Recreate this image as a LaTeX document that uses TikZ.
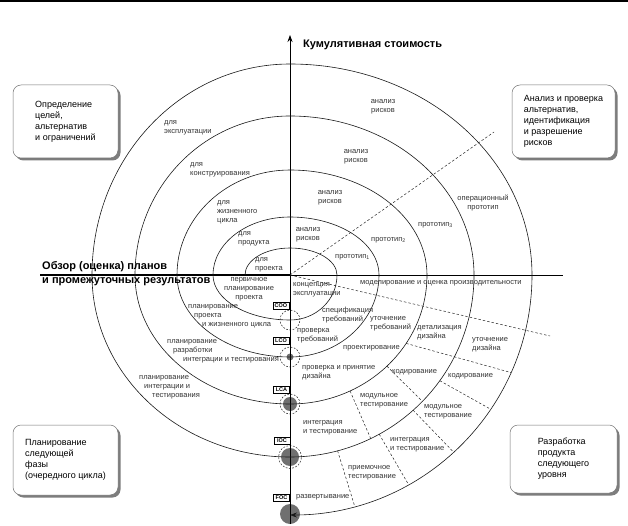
\documentclass[tikz,border=0pt]{standalone}
\usepackage{fontspec}
\setmainfont{Liberation Sans}
\usetikzlibrary{arrows.meta,shadows}
\begin{document}
\begin{tikzpicture}[x=1pt,y=-1pt,
  spiral/.style={line width=0.6pt, draw=black!90},
  axisline/.style={line width=0.7pt, draw=black},
  dsh/.style={line width=0.5pt, draw=black!85, dash pattern=on 2.5pt off 2pt},
  lbl/.style={font=\fontsize{7.5}{9}\selectfont, inner sep=0pt, text=black!80, align=left, anchor=west},
  clbl/.style={font=\fontsize{7.5}{9}\selectfont, inner sep=0pt, text=black!80, align=center},
  bigl/.style={font=\bfseries\fontsize{11}{13}\selectfont, inner sep=0pt, anchor=west},
  box/.style={draw=black!55, line width=0.5pt, rounded corners=8pt, fill=white, align=left,
     font=\fontsize{9}{11}\selectfont, inner sep=0pt,
     drop shadow={shadow xshift=2.5pt, shadow yshift=-2.5pt, fill=black!60, opacity=0.85}},
  tag/.style={draw=black, line width=0.5pt, fill=white, inner sep=0.5pt, minimum width=16pt, minimum height=7pt,
     font=\bfseries\fontsize{5.5}{6}\selectfont},
  mcirc/.style={dsh, dash pattern=on 1.8pt off 1.5pt},
  mfill/.style={fill={rgb,255:red,112;green,112;blue,112}, draw=none}
]
\useasboundingbox (0,0) rectangle (628,526);
\fill[black] (0,0) rectangle (628,2.5);

% milestone circles (beneath lines)
\fill[mfill] (290,357) circle[radius=3.5pt];
\fill[mfill] (290,404) circle[radius=7pt];
\fill[mfill] (290,457) circle[radius=9pt];
\fill[mfill] (290,514) circle[radius=10pt];
\draw[mcirc] (290,320) circle[radius=10pt];
\draw[mcirc] (290,357) circle[radius=10pt];
\draw[mcirc] (290,404) circle[radius=10pt];
\draw[mcirc] (290,457) circle[radius=11.5pt];

% axes
\coordinate (O) at (290,275);
\coordinate (ytop) at (290,35);
\coordinate (ybot) at (290,524);
\coordinate (xl) at (40,275);
\coordinate (xr) at (563,275);
\draw[axisline] (ybot) -- (O);
\draw[axisline, -{Stealth[length=7pt,width=5pt]}] (O) -- (ytop);
\draw[line width=2pt] (xl) -- (O);
\draw[line width=0.6pt] (O) -- (xr);

% dashed radial lines
\coordinate (d1) at (494,132);
\coordinate (d2) at (550,336);
\draw[dsh] (O) -- (d1);
\draw[dsh] (O) -- (d2);
\draw[dsh] (406.2,343.4) -- (511.1,372.6);
\draw[dsh] (386.9,366.2) -- (422.4,401.4);
\draw[dsh] (439.8,380.7) -- (490.6,409.2);
\draw[dsh] (413.1,410.2) -- (453.5,452.0);
\draw[dsh] (350.1,391.0) -- (370.7,438.6);
\draw[dsh] (379.2,434.2) -- (408.4,484.3);
\draw[dsh] (337.6,450.8) -- (354.7,506.3);

% spiral (quarter ellipses as cubic curves)
\draw[spiral, -{Stealth[length=7pt,width=5pt]}] (245,275)
 .. controls (245,260.09) and (265.15,248) .. (290,248)
 .. controls (315.96,248) and (337,260.09) .. (337,275)
 .. controls (337,299.85) and (315.96,320) .. (290,320)
 .. controls (247.47,320) and (213,299.85) .. (213,275)
 .. controls (213,242.97) and (247.47,217) .. (290,217)
 .. controls (339.15,217) and (379,242.97) .. (379,275)
 .. controls (379,320.29) and (339.15,357) .. (290,357)
 .. controls (227.59,357) and (177,320.29) .. (177,275)
 .. controls (177,217.01) and (227.59,170) .. (290,170)
 .. controls (365.67,170) and (427,217.01) .. (427,275)
 .. controls (427,346.25) and (365.67,404) .. (290,404)
 .. controls (204.39,404) and (135,346.25) .. (135,275)
 .. controls (135,187.18) and (204.39,116) .. (290,116)
 .. controls (391.62,116) and (474,187.18) .. (474,275)
 .. controls (474,375.52) and (391.62,457) .. (290,457)
 .. controls (180.64,457) and (92,375.52) .. (92,275)
 .. controls (92,158.46) and (180.64,64) .. (290,64)
 .. controls (423.66,64) and (532,158.46) .. (532,275)
 .. controls (532,407.55) and (423.66,515) .. (290,515);

% milestone tags
\node[tag] (coo) at (281,305.5) {COO};
\node[tag] (lco) at (281,340.5) {LCO};
\node[tag] (lca) at (281.5,390) {LCA};
\node[tag] (ioc) at (282,441) {IOC};
\node[tag] (foc) at (281.5,498) {FOC};

% big labels
\node[bigl] (cum) at (303,45) {Кумулятивная стоимость};
\node[bigl] (rev1) at (42,267) {Обзор (оценка) планов};
\node[bigl] (rev2) at (42,282) {и промежуточных результатов};

% quadrant boxes
\node[box, minimum width=105pt, minimum height=73pt] (q1) at (65.5,121.5) {Определение\\целей,\\альтернатив\\и ограничений};
\node[box, minimum width=103pt, minimum height=73pt] (q2) at (563.5,121.5) {Анализ и проверка\\альтернатив,\\идентификация\\и разрешение\\рисков};
\node[box, minimum width=105pt, minimum height=70pt] (q3) at (65.5,460) {Планирование\\следующей\\фазы\\(очередного цикла)};
\node[box, minimum width=107pt, minimum height=68pt] (q4) at (563.5,459) {Разработка\\продукта\\следующего\\уровня};

% upper-left labels
\node[lbl] (u1) at (164,128) {для\\эксплуатации};
\node[lbl] (u2) at (190,170) {для\\конструирования};
\node[lbl] (u3) at (217,212) {для\\жизненного\\цикла};
\node[lbl] (u4) at (238,239) {для\\продукта};
\node[lbl] (u5) at (255,265) {для\\проекта};

% upper-right labels
\node[clbl] (r1) at (308,235) {анализ\\рисков};
\node[clbl] (r2) at (330,198) {анализ\\рисков};
\node[clbl] (r3) at (356,157) {анализ\\рисков};
\node[clbl] (r4) at (383,107) {анализ\\рисков};
\node[lbl] (p1) at (335,257) {прототип\textsubscript{1}};
\node[lbl] (p2) at (371,240) {прототип\textsubscript{2}};
\node[lbl] (p3) at (418,225) {прототип\textsubscript{3}};
\node[clbl] (p4) at (483,203) {операционный\\прототип};

% lower-left labels
\node[clbl] (l1) at (249,289) {первичное\\планирование\\проекта};
\node[lbl] (l2) at (188,316.5) {планирование\\\hspace*{6pt}проекта\\\hspace*{14pt}и жизненного цикла};
\node[lbl] (l3) at (167,351) {планирование\\\hspace*{6pt}разработки\\\hspace*{16pt}интеграции и тестирования};
\node[lbl] (l4) at (139,387) {планирование\\\hspace*{5pt}интеграции и\\\hspace*{13pt}тестирования};

% lower-right labels
\node[lbl] (m0) at (360,283) {моделирование и оценка производительности};
\node[lbl] (m1) at (293,290) {концепция\\эксплуатации};
\node[lbl] (m2) at (322,315.5) {спецификация\\требований};
\node[lbl] (m3) at (297,336) {проверка\\требований};
\node[lbl] (m4) at (370,324) {уточнение\\требований};
\node[lbl] (m5) at (343,348) {проектирование};
\node[lbl] (m6) at (302,373) {проверка и принятие\\дизайна};
\node[lbl] (m7) at (417,333) {детализация\\дизайна};
\node[lbl] (m8) at (472,344.5) {уточнение\\дизайна};
\node[lbl] (m9) at (392,372.5) {кодирование};
\node[lbl] (m10) at (448,376) {кодирование};
\node[lbl] (m11) at (360,400.5) {модульное\\тестирование};
\node[lbl] (m12) at (424,411.5) {модульное\\тестирование};
\node[lbl] (m13) at (303,427.5) {интеграция\\и тестирование};
\node[lbl] (m14) at (390,444.5) {интеграция\\и тестирование};
\node[lbl] (m15) at (348,472.5) {приемочное\\тестирование};
\node[lbl] (m16) at (296,497) {развертывание};
\end{tikzpicture}
\end{document}
